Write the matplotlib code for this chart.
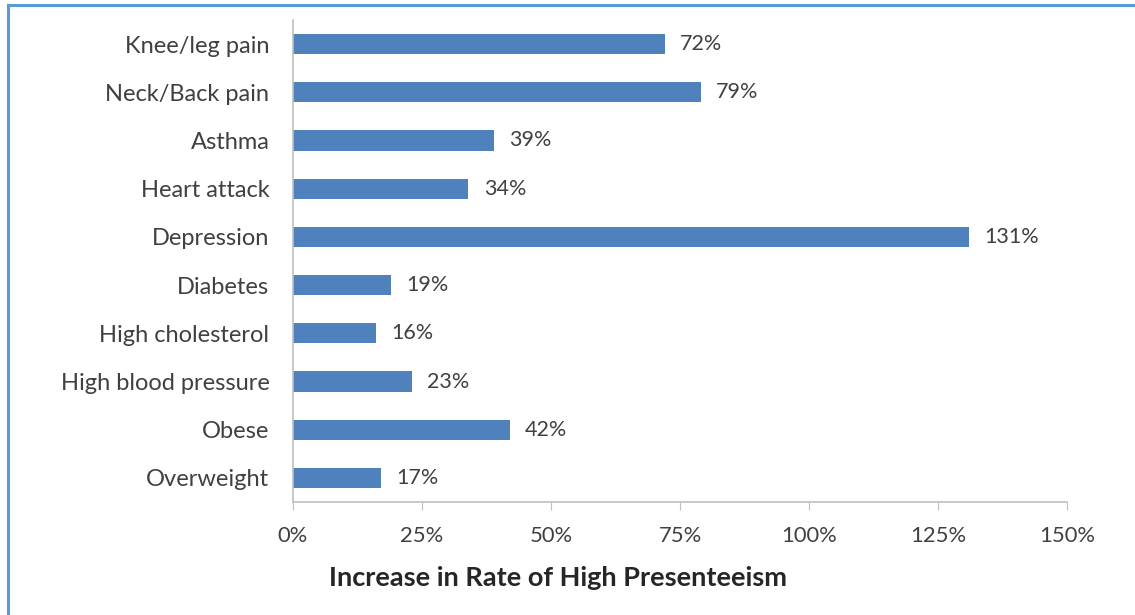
import matplotlib
matplotlib.use("Agg")
import matplotlib.pyplot as plt
from matplotlib.lines import Line2D

categories = ["Knee/leg pain", "Neck/Back pain", "Asthma", "Heart attack", "Depression",
              "Diabetes", "High cholesterol", "High blood pressure", "Obese", "Overweight"]
values = [72, 79, 39, 34, 131, 19, 16, 23, 42, 17]
xticks = [0, 25, 50, 75, 100, 125, 150]
xlabel = "Increase in Rate of High Presenteeism"

plt.rcParams['font.family'] = ['Lato', 'DejaVu Sans']
txt = '#404040'
bar_color = '#4F81BD'

fig = plt.figure(figsize=(11.35, 6.15), dpi=100)
ax = fig.add_axes([293/1135, 1-502/615, (1067-293)/1135, (502-20)/615])

y = list(range(len(categories)))
ax.barh(y, values, height=0.42, color=bar_color)
ax.set_ylim(len(categories)-0.5, -0.5)
ax.set_xlim(0, 150)
ax.set_yticks(y)
ax.set_yticklabels(categories, fontsize=17, color=txt)
ax.set_xticks(xticks)
ax.set_xticklabels([f"{t}%" for t in xticks], fontsize=15.8, color=txt)
ax.tick_params(axis='y', length=0, pad=17)
ax.tick_params(axis='x', length=6, color='#BFBFBF', pad=11, direction='out')
for s in ['top', 'right']:
    ax.spines[s].set_visible(False)
for s in ['left', 'bottom']:
    ax.spines[s].set_color('#BFBFBF')
    ax.spines[s].set_linewidth(1.2)

for yi, v in zip(y, values):
    ax.annotate(f"{v}%", (v, yi), xytext=(11, 0), textcoords='offset points',
                va='center', ha='left', fontsize=15.5, color=txt)

fig.text(558/1135, 1-578/615, xlabel, ha='center', va='center',
         fontsize=19.5, fontweight='bold', color='#262626')

# frame lines (top and left)
fig.add_artist(Line2D([7.5/1135, 1], [1-5/615, 1-5/615], color='#5B9BD5', lw=2.2,
                      transform=fig.transFigure))
fig.add_artist(Line2D([7.5/1135, 7.5/1135], [0, 1-5/615], color='#5B9BD5', lw=2.2,
                      transform=fig.transFigure))

fig.savefig("out.png", dpi=100)
